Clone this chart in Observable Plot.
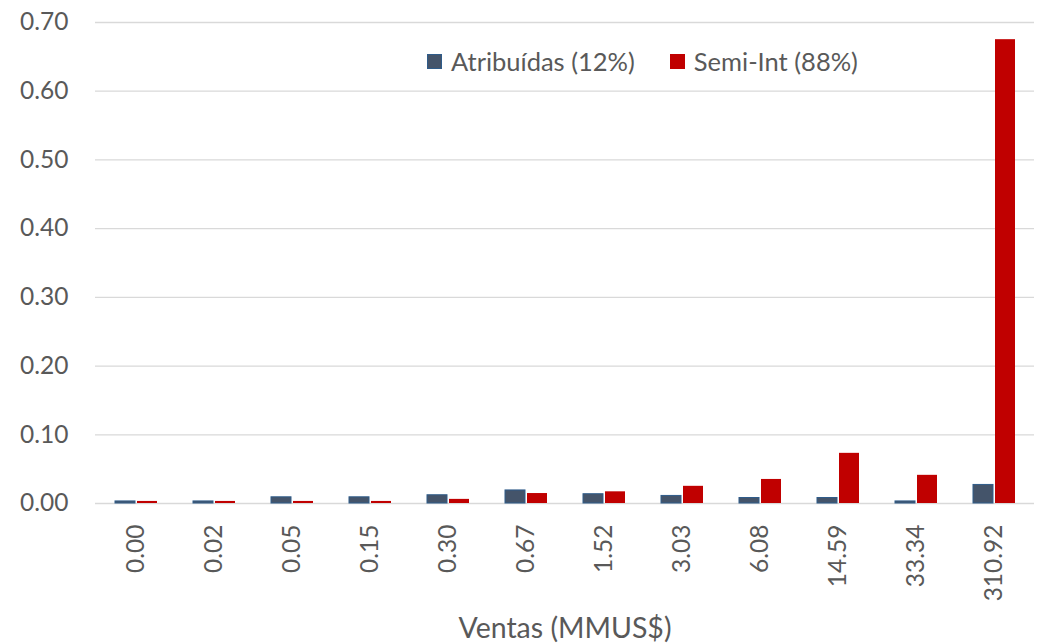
<!DOCTYPE html>
<html>
<head>
<meta charset="utf-8">
<script src="https://cdn.jsdelivr.net/npm/d3@7"></script>
<script src="https://cdn.jsdelivr.net/npm/@observablehq/plot@0.6"></script>
<style>
  html, body { margin: 0; padding: 0; background: #fff; }
  #wrap { position: relative; width: 1040px; height: 644px; font-family: Lato, "Open Sans", sans-serif; color: #595959; }
  #legend { position: absolute; left: 427px; top: 46px; display: flex; align-items: center; font-size: 25.5px; color: #595959; white-space: nowrap; }
  .sw { display: inline-block; width: 15px; height: 15px; margin-right: 9px; box-sizing: border-box; }
  .item { display: flex; align-items: center; margin-right: 35px; }
</style>
</head>
<body>
<div id="wrap"><div id="chart"></div><div id="legend"></div></div>
<script>
const categories = ["0.00","0.02","0.05","0.15","0.30","0.67","1.52","3.03","6.08","14.59","33.34","310.92"];
const seriesNames = ["Atribuídas (12%)", "Semi-Int (88%)"];
const atribuidas = [0.003,0.003,0.009,0.009,0.012,0.019,0.0135,0.011,0.008,0.008,0.003,0.027];
const semiInt    = [0.003,0.003,0.003,0.003,0.006,0.0145,0.017,0.025,0.035,0.073,0.041,0.675];
const yTicks = [0,0.1,0.2,0.3,0.4,0.5,0.6,0.7];
const colors = ["#44546A", "#C00000"];
const xLabel = "Ventas (MMUS$)";

const dataA = categories.map((c, i) => ({cat: c, value: atribuidas[i]}));
const dataB = categories.map((c, i) => ({cat: c, value: semiInt[i]}));

const chart = Plot.plot({
  width: 1040,
  height: 644,
  marginTop: 22,
  marginBottom: 141,
  marginLeft: 95,
  marginRight: 6,
  style: {fontFamily: "Lato, 'Open Sans', sans-serif", fontSize: "24.5px", color: "#595959", background: "#fff"},
  x: {domain: categories, paddingInner: 0.463, paddingOuter: 0.2315, align: 0.5},
  y: {domain: [0, 0.7]},
  marks: [
    Plot.gridY(yTicks, {stroke: "#D9D9D9", strokeOpacity: 1, strokeWidth: 1.3}),
    Plot.barY(dataA, {x: "cat", y: "value", fill: colors[0], stroke: "#2F5C8A", strokeWidth: 1, insetRight: 22}),
    Plot.barY(dataB, {x: "cat", y: "value", fill: colors[1], insetLeft: 22}),
    Plot.axisY(yTicks, {tickSize: 0, tickPadding: 27, tickFormat: d3.format(".2f"), label: null, fontSize: 24.5}),
    Plot.axisX({tickSize: 0, tickPadding: 21, tickRotate: -90, fontSize: 24.5, label: null}),
    Plot.text([xLabel], {frameAnchor: "bottom", dy: 125, lineAnchor: "middle", textAnchor: "middle", fontSize: 28.5, fill: "#595959"})
  ]
});
document.getElementById("chart").appendChild(chart);

const legend = document.getElementById("legend");
seriesNames.forEach((name, i) => {
  const item = document.createElement("div");
  item.className = "item";
  const sw = document.createElement("span");
  sw.className = "sw";
  sw.style.background = colors[i];
  if (i === 0) sw.style.border = "1px solid #2F5C8A";
  item.appendChild(sw);
  item.appendChild(document.createTextNode(name));
  legend.appendChild(item);
});
</script>
</body>
</html>
